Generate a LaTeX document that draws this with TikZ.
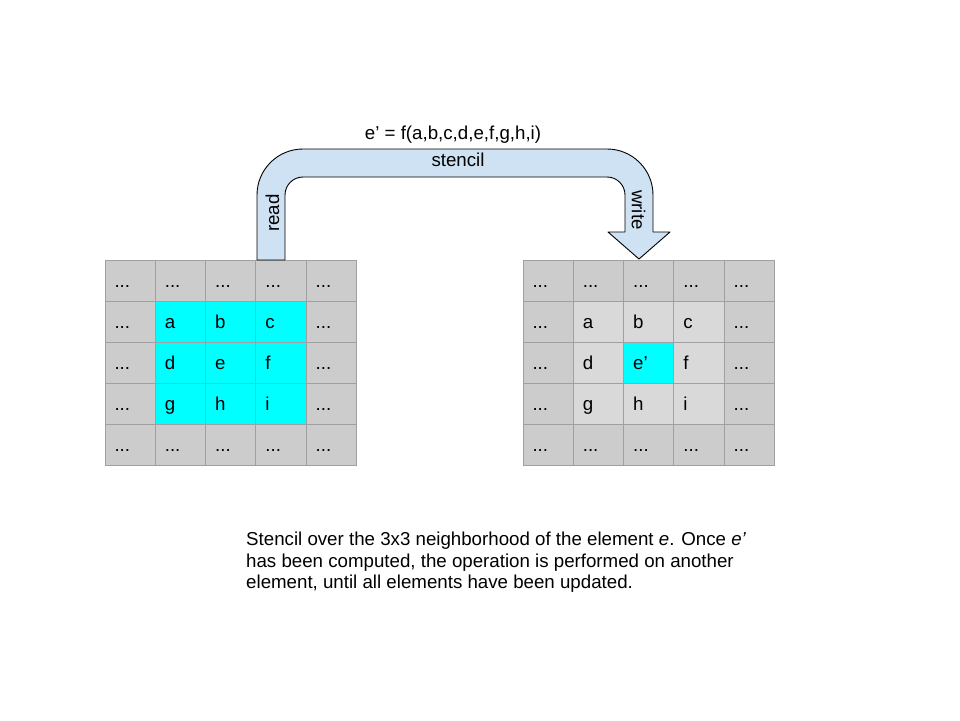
\documentclass[tikz,border=0pt]{standalone}
\usepackage{fontspec}
\setmainfont{Liberation Sans}
\definecolor{cellgray}{HTML}{CCCCCC}
\definecolor{celllight}{HTML}{D9D9D9}
\definecolor{stencilcyan}{HTML}{00FFFF}
\definecolor{gridline}{HTML}{A0A0A0}
\definecolor{arrowblue}{HTML}{CFE2F3}
\newcommand\stletter[1]{\ifcase#1 a\or b\or c\or d\or e\or f\or g\or h\or i\fi}
\newcommand\txtfont{\fontsize{18.7}{21.5}\selectfont}
\begin{document}
\begin{tikzpicture}[x=1pt,y=1pt,
  cell/.style={rectangle, draw=gridline, line width=0.9pt, minimum width=50.3pt,
    minimum height=41.1pt, inner xsep=9.5pt, inner ysep=0pt, text width=31.3pt,
    align=left, text height=13.5pt, text depth=0.5pt, font=\txtfont},
  lbl/.style={inner sep=0pt, font=\txtfont},
  bigarrow/.style={draw=black, line width=0.9pt, fill=arrowblue, line join=round}
]
\fill[white] (0,0) rectangle (960,-720);
\useasboundingbox (0,0) rectangle (960,-720);

% left grid
\foreach \r in {0,...,4}{
 \foreach \c in {0,...,4}{
  \pgfmathtruncatemacro\inn{(\r>0)&&(\r<4)&&(\c>0)&&(\c<4)}
  \pgfmathtruncatemacro\idx{(\r-1)*3+\c-1}
  \ifnum\inn=1
   \node[cell, fill=stencilcyan] (L-\r-\c) at ({105+50.3*(\c+0.5)}, {-260-41.1*(\r+0.5)}) {\stletter{\idx}};
  \else
   \node[cell, fill=cellgray] (L-\r-\c) at ({105+50.3*(\c+0.5)}, {-260-41.1*(\r+0.5)}) {...};
  \fi
 }}

% right grid
\foreach \r in {0,...,4}{
 \foreach \c in {0,...,4}{
  \pgfmathtruncatemacro\inn{(\r>0)&&(\r<4)&&(\c>0)&&(\c<4)}
  \pgfmathtruncatemacro\idx{(\r-1)*3+\c-1}
  \ifnum\inn=1
   \ifnum\idx=4
    \node[cell, fill=stencilcyan] (R-\r-\c) at ({523+50.3*(\c+0.5)}, {-260-41.1*(\r+0.5)}) {e’};
   \else
    \node[cell, fill=celllight] (R-\r-\c) at ({523+50.3*(\c+0.5)}, {-260-41.1*(\r+0.5)}) {\stletter{\idx}};
   \fi
  \else
   \node[cell, fill=cellgray] (R-\r-\c) at ({523+50.3*(\c+0.5)}, {-260-41.1*(\r+0.5)}) {...};
  \fi
 }}

% bent stencil arrow
\draw[bigarrow] (257,-260) -- (257,-195) arc[start angle=180, end angle=90, radius=46]
  -- (607,-149) arc[start angle=90, end angle=0, radius=46]
  -- (653,-232) -- (670,-232) -- (639,-259) -- (608,-232) -- (625,-232)
  -- (625,-195) arc[start angle=0, end angle=90, radius=18]
  -- (303,-177) arc[start angle=90, end angle=180, radius=18]
  -- (285,-260) -- cycle;

\node[lbl, anchor=base] (formula) at (453,-139.5) {e’ = f(a,b,c,d,e,f,g,h,i)};
\node[lbl, anchor=base] (stencil) at (458,-166) {stencil};
\node[lbl, rotate=90] (read) at (272.5,-213) {read};
\node[lbl, rotate=-90] (write) at (638.5,-210) {write};

\node[lbl, anchor=north west, align=left] (caption) at (246,-532)
 {Stencil over the 3x3 neighborhood of the element \textit{e}. Once \textit{e’}\\
  has been computed, the operation is performed on another\\
  element, until all elements have been updated.};
\end{tikzpicture}
\end{document}
